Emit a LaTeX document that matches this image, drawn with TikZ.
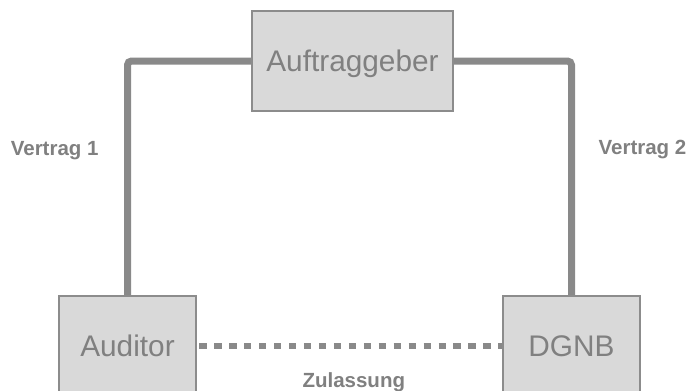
\documentclass[tikz,border=0pt]{standalone}
\usepackage{fontspec}
\setmainfont{Liberation Sans}
\usetikzlibrary{backgrounds}
\definecolor{boxfill}{HTML}{D9D9D9}
\definecolor{boxline}{HTML}{8C8C8C}
\definecolor{conn}{HTML}{898989}
\definecolor{txt}{HTML}{808080}
\tikzset{
  party/.style={draw=boxline, line width=2pt, fill=boxfill, text=txt,
    inner sep=0pt, outer sep=0pt,
    font=\fontsize{29.8}{30}\selectfont, text height=21.3pt, text depth=0pt},
  contract/.style={draw=conn, line width=7pt, rounded corners=4pt},
  approval/.style={draw=conn, line width=6pt, dash pattern=on 7.3pt off 7.65pt, dash phase=11.65pt},
  lbl/.style={text=txt, inner sep=0pt, anchor=base, font=\bfseries\fontsize{20.5}{21}\selectfont}
}
\begin{document}
\begin{tikzpicture}[x=1pt,y=-1pt]
\clip (0,0) rectangle (694,391);
\node[party, minimum width=201pt, minimum height=100pt] (auf) at (352.5,61) {Auftraggeber};
\node[party, minimum width=137pt, minimum height=100pt] (aud) at (127.5,346) {Auditor};
\node[party, minimum width=137pt, minimum height=100pt] (dgnb) at (571.5,346) {DGNB};
\begin{scope}[on background layer]
\draw[contract] (aud.north) |- (auf.west);
\draw[contract] (dgnb.north) |- (auf.east);
\draw[approval] (aud.east) -- (dgnb.west);
\end{scope}
\node[lbl] (v1) at (54.7,155) {Vertrag 1};
\node[lbl] (v2) at (642.5,154.5) {Vertrag 2};
\node[lbl] (zu) at (353.8,387.3) {Zulassung};
\end{tikzpicture}
\end{document}
